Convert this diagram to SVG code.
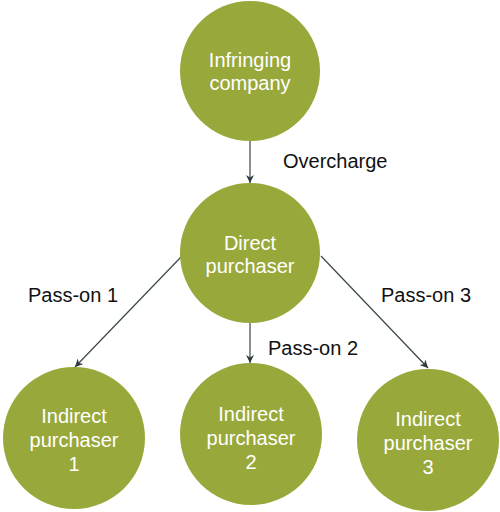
<svg xmlns="http://www.w3.org/2000/svg" width="500" height="512" viewBox="0 0 500 512">
<defs>
<marker id="arr" viewBox="0 0 10 10" refX="10" refY="5" markerWidth="8" markerHeight="8" markerUnits="userSpaceOnUse" orient="auto">
<path d="M0,0 L10,5 L0,10 L3,5 Z" fill="#2f3b3b"/>
</marker>
<style>
.node{fill:#99a83a}
.nt{font-family:"Liberation Sans",Arial,sans-serif;font-size:20px;fill:#ffffff;text-anchor:middle}
.lbl{font-family:"Liberation Sans",Arial,sans-serif;font-size:20px;fill:#111111}
.edge{stroke:#3a4646;stroke-width:1.2;fill:none;marker-end:url(#arr)}
</style>
</defs>
<rect width="500" height="512" fill="#ffffff"/>
<g id="connectors">
<line class="edge" x1="250" y1="141" x2="250" y2="183"/>
<line class="edge" x1="181" y1="257" x2="75" y2="367"/>
<line class="edge" x1="250" y1="323" x2="250" y2="363"/>
<line class="edge" x1="321" y1="256" x2="428" y2="368"/>
<text class="lbl" x="283" y="168">Overcharge</text>
<text class="lbl" x="28" y="302">Pass-on 1</text>
<text class="lbl" x="268" y="355">Pass-on 2</text>
<text class="lbl" x="381" y="302">Pass-on 3</text>
</g>
<g id="infringing">
<circle class="node" cx="250" cy="71" r="70"/>
<text class="nt" x="250" y="67">Infringing</text>
<text class="nt" x="250" y="90">company</text>
</g>
<g id="direct">
<circle class="node" cx="250" cy="253" r="70"/>
<text class="nt" x="250" y="250">Direct</text>
<text class="nt" x="250" y="273">purchaser</text>
</g>
<g id="indirect1">
<circle class="node" cx="74" cy="438" r="71"/>
<text class="nt" x="74" y="423">Indirect</text>
<text class="nt" x="74" y="447">purchaser</text>
<text class="nt" x="74" y="471">1</text>
</g>
<g id="indirect2">
<circle class="node" cx="251" cy="434" r="71"/>
<text class="nt" x="251" y="421">Indirect</text>
<text class="nt" x="251" y="445">purchaser</text>
<text class="nt" x="251" y="469">2</text>
</g>
<g id="indirect3">
<circle class="node" cx="428" cy="440" r="71"/>
<text class="nt" x="428" y="426">Indirect</text>
<text class="nt" x="428" y="450">purchaser</text>
<text class="nt" x="428" y="474">3</text>
</g>
</svg>
